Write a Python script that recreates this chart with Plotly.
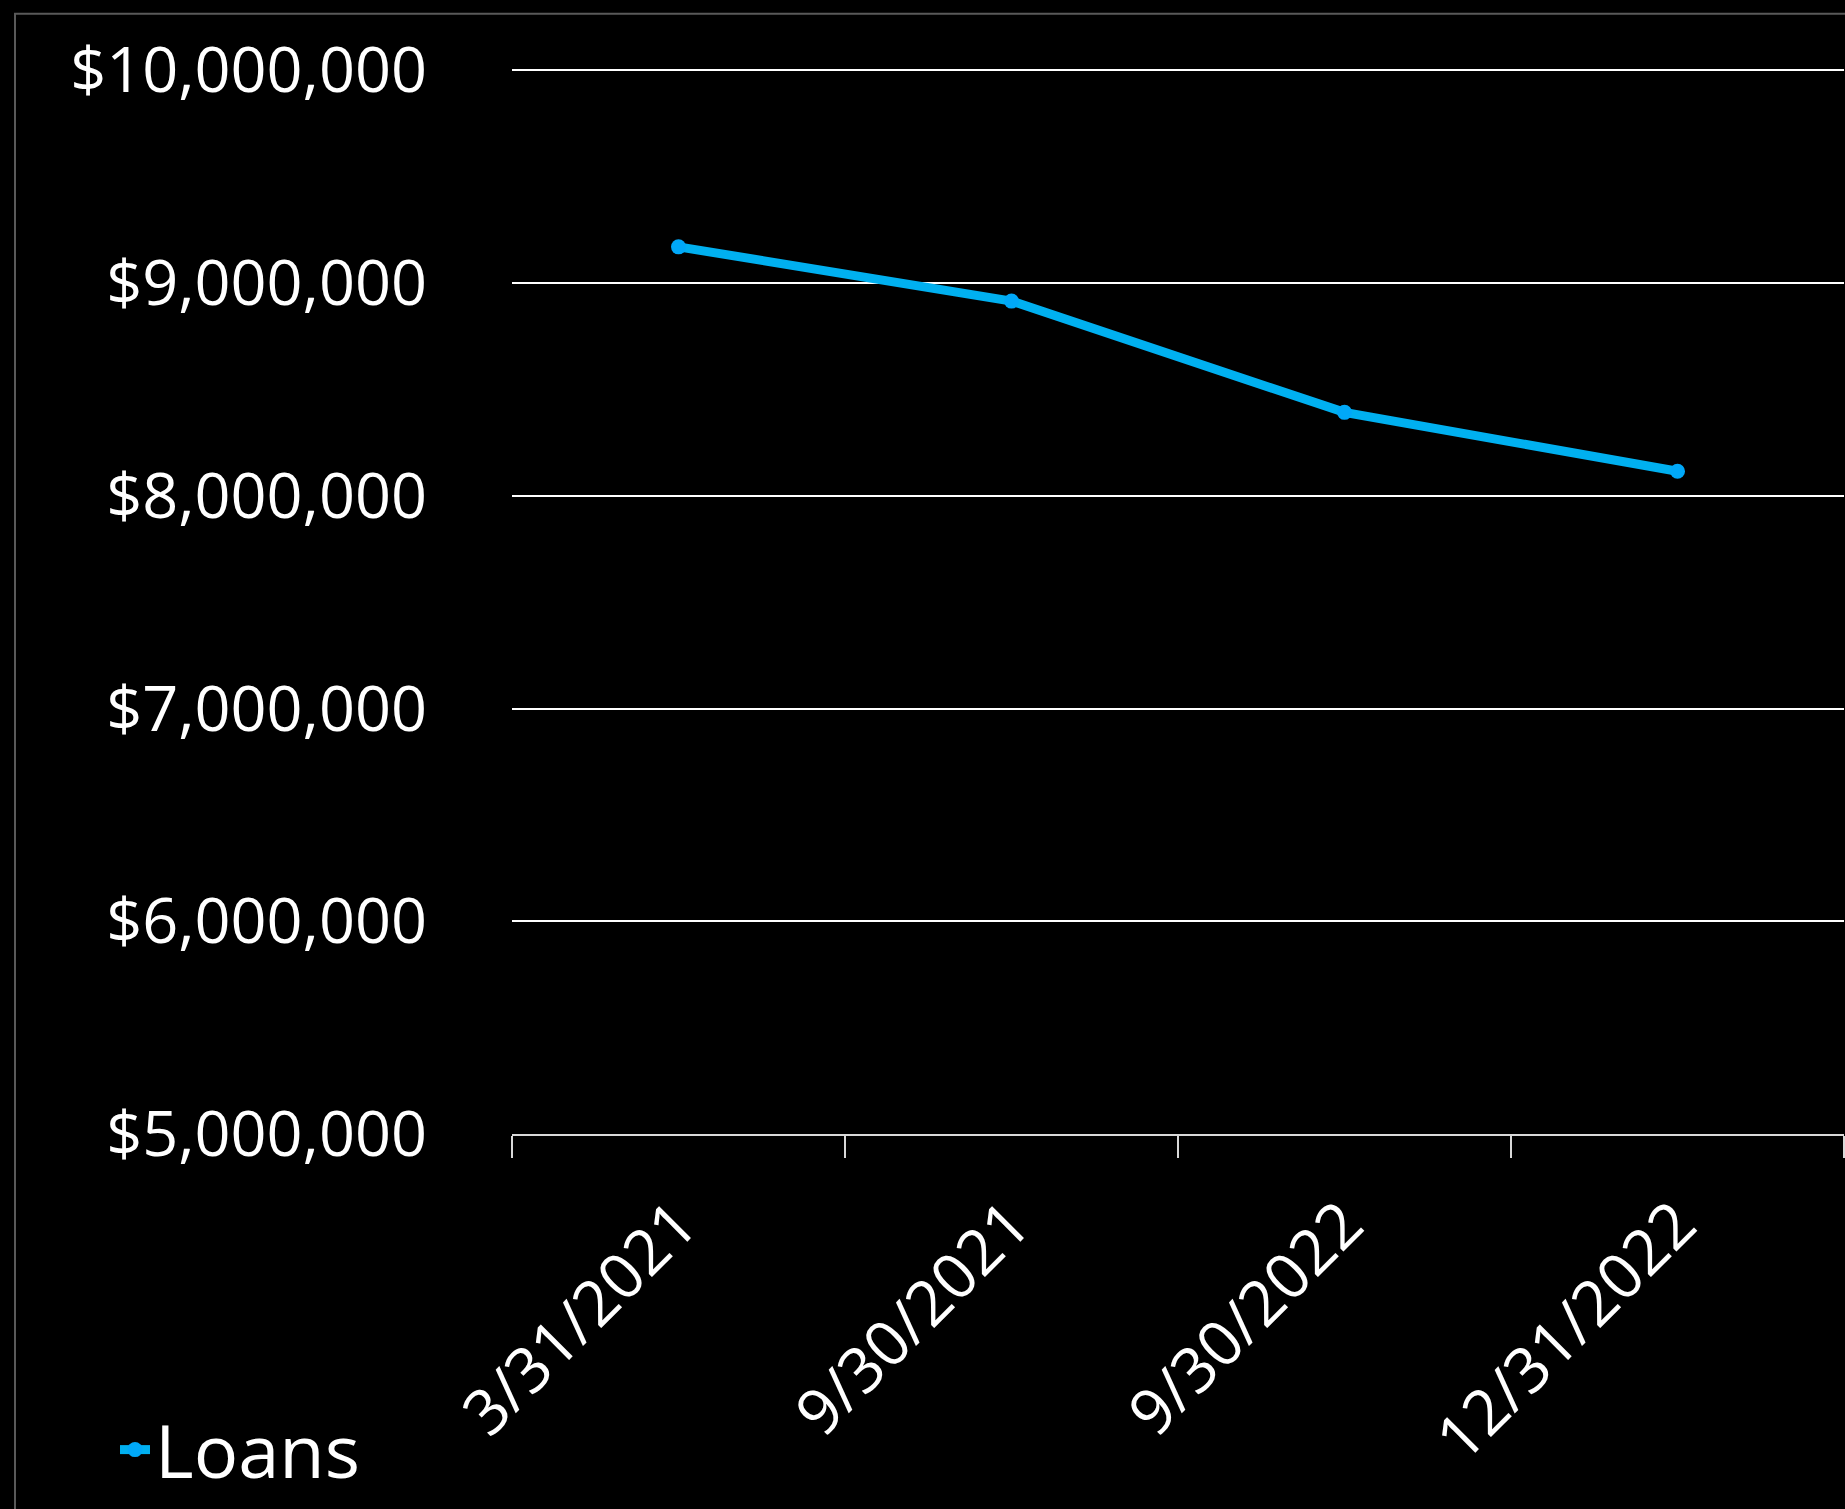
import plotly.graph_objects as go

dates = ["3/31/2021", "9/30/2021", "9/30/2022", "12/31/2022"]
loans = [9170000, 8915000, 8392000, 8115000]
y_ticks = [5000000, 6000000, 7000000, 8000000, 9000000, 10000000]
y_labels = ["${:,}".format(v) for v in y_ticks]

W, H = 1845, 1509
y_top_val = 10020000
y10_px, y5_px = 70.6, 1134.3
scale = (y5_px - y10_px) / 5000000
T = y10_px - (y_top_val - 10000000) * scale
B = H - y5_px
L, R = 512, 1
pw = W - L - R
ph = y5_px - T

fig = go.Figure()
fig.add_trace(go.Scatter(
    x=dates, y=loans, name="Loans", mode="lines+markers",
    line=dict(color="#00B0F0", width=9),
    marker=dict(color="#00A8F8", size=15),
))

font = "Open Sans, Noto Sans, sans-serif"
fig.update_layout(
    width=W, height=H,
    margin=dict(l=L, r=R, t=T, b=B, autoexpand=False),
    paper_bgcolor="black", plot_bgcolor="black",
    font=dict(family=font, color="white", size=62),
    showlegend=True,
    legend=dict(xref="container", yref="container", x=115 / W, y=1 - 1450 / H,
                xanchor="left", yanchor="middle", font=dict(size=74, color="white"),
                bgcolor="rgba(0,0,0,0)"),
    xaxis=dict(
        type="category", tickangle=-45, showgrid=False,
        showline=True, linecolor="#D9D9D9", linewidth=2,
        ticks="outside", tickson="boundaries", ticklen=22, tickcolor="#D9D9D9", tickwidth=2,
        tickfont=dict(size=63, color="white"), ticklabelstandoff=26,
        range=[-0.5, 3.5], fixedrange=True,
    ),
    yaxis=dict(
        range=[5000000, y_top_val], tickvals=y_ticks, ticktext=y_labels,
        showgrid=True, gridcolor="#FFFFFF", gridwidth=2, zeroline=False,
        showline=False, ticks="", tickfont=dict(size=63, color="white"),
        ticklabelstandoff=84, fixedrange=True,
    ),
    shapes=[dict(type="rect", xref="paper", yref="paper",
                 x0=(15 - L) / pw, x1=1.2, y0=-0.6, y1=(y5_px - 14) / ph,
                 line=dict(color="#595959", width=2), layer="below")],
)

fig.write_html("out.html", config={"displayModeBar": False},
               post_script="document.body.style.margin='0';document.body.style.background='black';")
